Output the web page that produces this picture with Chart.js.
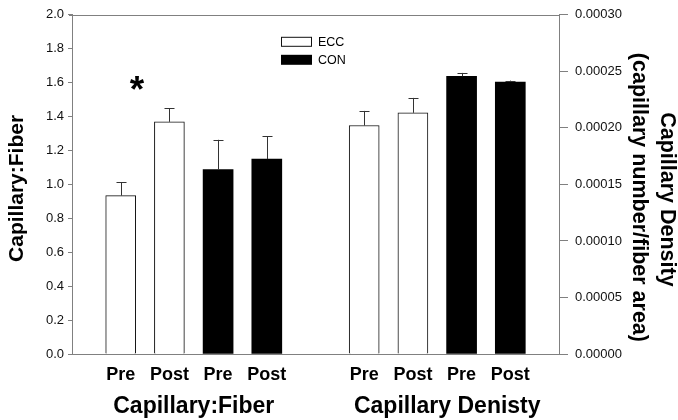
<!DOCTYPE html>
<html>
<head>
<meta charset="utf-8">
<script src="https://cdn.jsdelivr.net/npm/chart.js@4.4.0/dist/chart.umd.min.js"></script>
<style>
  html, body { margin: 0; padding: 0; background: #fff; }
  #wrap { width: 678px; height: 420px; position: relative; }
</style>
</head>
<body>
<div id="wrap"><canvas id="c"></canvas></div>
<script>
// ---- data ----
const xLabels = ['', 'Pre', 'Post', 'Pre', 'Post', '', 'Pre', 'Post', 'Pre', 'Post', ''];
const groupTitles = ['Capillary:Fiber', 'Capillary Denisty'];
const barGroups = ['ECC', 'ECC', 'CON', 'CON'];
const fiberSlots = [1, 2, 3, 4];
const densitySlots = [6, 7, 8, 9];
const fiberMean = [0.934, 1.369, 1.088, 1.149];
const fiberErr = [0.080, 0.080, 0.175, 0.135];
const densityMean = [0.0002021, 0.0002133, 0.0002456, 0.0002406];
const densityErr = [0.0000129, 0.0000132, 0.0000030, 0.0000012];
const leftTicksMax = 2.0, leftStep = 0.2;
const rightTicksMax = 0.0003, rightStep = 0.00005;

const FONT = "'Liberation Sans', Arial, sans-serif";
const AXIS = '#808080';

function buildSeries(group, slots, means, errs) {
  const data = xLabels.map(() => null);
  const e = xLabels.map(() => null);
  slots.forEach((s, i) => {
    if (barGroups[i] === group) { data[s] = means[i]; e[s] = errs[i]; }
  });
  return { data, e };
}
const eccF = buildSeries('ECC', fiberSlots, fiberMean, fiberErr);
const conF = buildSeries('CON', fiberSlots, fiberMean, fiberErr);
const eccD = buildSeries('ECC', densitySlots, densityMean, densityErr);
const conD = buildSeries('CON', densitySlots, densityMean, densityErr);

const white = { backgroundColor: '#ffffff', borderColor: '#111', borderWidth: 1 };
const black = { backgroundColor: '#000000', borderColor: '#000', borderWidth: 0 };

const datasets = [
  Object.assign({ label: 'ECC', data: eccF.data, errors: eccF.e, yAxisID: 'y' }, white),
  Object.assign({ label: 'CON', data: conF.data, errors: conF.e, yAxisID: 'y' }, black),
  Object.assign({ label: 'ECC', data: eccD.data, errors: eccD.e, yAxisID: 'y2', legendSkip: true }, white),
  Object.assign({ label: 'CON', data: conD.data, errors: conD.e, yAxisID: 'y2', legendSkip: true }, black)
];

const errorBars = {
  id: 'errorBars',
  afterDatasetsDraw(chart) {
    const ctx = chart.ctx;
    ctx.save();
    ctx.strokeStyle = '#333';
    ctx.lineWidth = 1;
    chart.data.datasets.forEach((ds, di) => {
      const meta = chart.getDatasetMeta(di);
      const ys = chart.scales[ds.yAxisID];
      meta.data.forEach((el, i) => {
        const v = ds.data[i];
        if (v === null || v === undefined) return;
        const top = ys.getPixelForValue(v + ds.errors[i]);
        const x = Math.round(el.x) + 0.5;
        ctx.beginPath();
        ctx.moveTo(x, el.y);
        ctx.lineTo(x, top);
        ctx.moveTo(x - 5, Math.round(top) + 0.5);
        ctx.lineTo(x + 5, Math.round(top) + 0.5);
        ctx.stroke();
      });
    });
    ctx.restore();
  }
};

const decorations = {
  id: 'decorations',
  afterDraw(chart) {
    const ctx = chart.ctx;
    const a = chart.chartArea;
    const xs = chart.scales.x, ys = chart.scales.y;
    ctx.save();
    // top frame line
    ctx.strokeStyle = AXIS;
    ctx.lineWidth = 1;
    ctx.beginPath();
    ctx.moveTo(a.left - 3, Math.round(a.top) + 0.5);
    ctx.lineTo(a.right, Math.round(a.top) + 0.5);
    ctx.stroke();

    // legend
    const lx = a.left + 209, ly = a.top + 22;
    const items = chart.data.datasets.filter(d => !d.legendSkip);
    items.forEach((d, i) => {
      const y = ly + i * 18;
      ctx.fillStyle = d.backgroundColor;
      ctx.fillRect(lx, y, 31, 10);
      if (d.borderWidth) {
        ctx.strokeStyle = d.borderColor;
        ctx.lineWidth = 1;
        ctx.strokeRect(lx + 0.5, y + 0.5, 30, 9);
      }
      ctx.fillStyle = '#000';
      ctx.font = '12.5px ' + FONT;
      ctx.textAlign = 'left';
      ctx.textBaseline = 'middle';
      ctx.fillText(d.label, lx + 37, y + 5.5);
    });

    // significance star (centred on its glyph box)
    ctx.fillStyle = '#000';
    ctx.font = 'bold 37px ' + FONT;
    ctx.textAlign = 'center';
    ctx.textBaseline = 'alphabetic';
    const m = ctx.measureText('*');
    const sx = xs.getPixelForValue(1.335), sy = ys.getPixelForValue(1.6);
    ctx.fillText('*', sx, sy + (m.actualBoundingBoxAscent - m.actualBoundingBoxDescent) / 2);

    // group titles under the x axis
    ctx.font = 'bold 23px ' + FONT;
    ctx.textBaseline = 'middle';
    const g1 = (xs.getPixelForValue(fiberSlots[0]) + xs.getPixelForValue(fiberSlots[3])) / 2;
    const g2 = (xs.getPixelForValue(densitySlots[0]) + xs.getPixelForValue(densitySlots[3])) / 2 + 10;
    ctx.fillText(groupTitles[0], g1, 407);
    ctx.fillText(groupTitles[1], g2, 407);

    // left axis title
    const cy = (a.top + a.bottom) / 2 + 4;
    ctx.save();
    ctx.translate(17, cy);
    ctx.rotate(-Math.PI / 2);
    ctx.font = 'bold 21px ' + FONT;
    ctx.fillText('Capillary:Fiber', 0, 0);
    ctx.restore();

    // right axis title (two lines)
    ctx.save();
    ctx.translate(667, cy + 11);
    ctx.rotate(Math.PI / 2);
    ctx.font = 'bold 21.5px ' + FONT;
    ctx.fillText('Capillary Density', 0, 0);
    ctx.restore();
    ctx.save();
    ctx.translate(639, cy + 9);
    ctx.rotate(Math.PI / 2);
    ctx.font = 'bold 21.5px ' + FONT;
    ctx.fillText('(capillary number/fiber area)', 0, 0);
    ctx.restore();

    ctx.restore();
  }
};

new Chart(document.getElementById('c'), {
  type: 'bar',
  data: { labels: xLabels, datasets },
  options: {
    responsive: true,
    maintainAspectRatio: false,
    animation: false,
    layout: { padding: { top: 14, left: 0, right: 0, bottom: 0 } },
    plugins: { legend: { display: false }, tooltip: { enabled: false } },
    datasets: { bar: { grouped: false, barThickness: 30 } },
    scales: {
      x: {
        type: 'category',
        offset: false,
        grid: { display: false, drawTicks: false },
        border: { display: true, color: AXIS, width: 1 },
        ticks: {
          autoSkip: false, maxRotation: 0, padding: 10, color: '#000',
          font: { family: FONT, size: 18, weight: 'bold' }
        },
        afterFit(s) { s.height = 66; }
      },
      y: {
        position: 'left',
        min: 0, max: leftTicksMax,
        grid: { display: true, drawOnChartArea: false, drawTicks: true, tickLength: 4, color: AXIS },
        border: { display: true, color: AXIS, width: 1 },
        ticks: {
          stepSize: leftStep, padding: 4, color: '#111',
          font: { family: FONT, size: 13 },
          callback: v => Number(v).toFixed(1)
        },
        afterFit(s) { s.width = 72; }
      },
      y2: {
        position: 'right',
        min: 0, max: rightTicksMax,
        grid: { display: true, drawOnChartArea: false, drawTicks: true, tickLength: 9, color: AXIS },
        border: { display: true, color: AXIS, width: 1 },
        ticks: {
          stepSize: rightStep, padding: 7, color: '#111',
          font: { family: FONT, size: 13 },
          callback: v => Number(v).toFixed(5)
        },
        afterFit(s) { s.width = 119; }
      }
    }
  },
  plugins: [errorBars, decorations]
});
</script>
</body>
</html>
